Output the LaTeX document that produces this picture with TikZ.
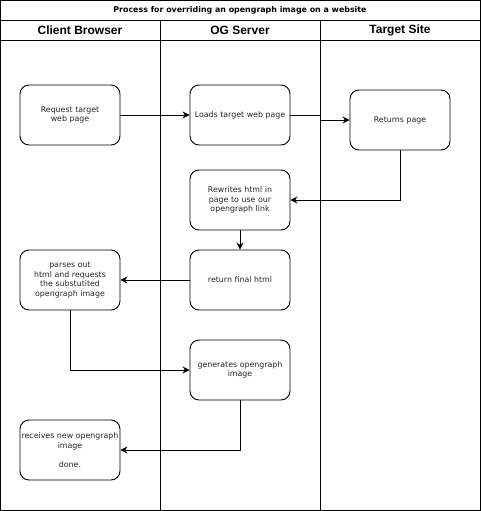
\documentclass[tikz,border=0pt]{standalone}
\usepackage{fontspec}
\setmainfont{DejaVu Sans}
\newfontfamily\hdrfont{Liberation Sans}
\usetikzlibrary{arrows.meta}
\tikzset{
  stepbox/.style={draw, line width=0.9pt, rounded corners=9pt, minimum width=100pt, minimum height=60pt, inner sep=0pt, text width=100pt, align=center, font=\fontsize{7.85}{9.6}\selectfont, text=black!85},
  flow/.style={draw, line width=0.9pt, -{Stealth[length=7pt,width=7pt]}},
  frame/.style={draw, line width=0.9pt},
  lanehdr/.style={font=\hdrfont\bfseries\fontsize{12}{14}\selectfont},
  titletext/.style={font=\bfseries\fontsize{7.9}{9}\selectfont}
}
\begin{document}
\begin{tikzpicture}[x=1pt,y=-1pt]
\useasboundingbox (0,0) rectangle (481,511);
% frame
\draw[frame] (0.5,0.5) rectangle (480,510);
\draw[frame] (0.5,20) -- (480,20);
\draw[frame] (0.5,40) -- (480,40);
\draw[frame] (160,20) -- (160,510);
\draw[frame] (320,20) -- (320,510);
\node[titletext] (title) at (240,10.5) {Process for overriding an opengraph image on a website};
\node[lanehdr] (h1) at (80,30) {Client Browser};
\node[lanehdr] (h2) at (240,30) {OG Server};
\node[lanehdr] (h3) at (400,30) {Target Site};
% boxes
\node[stepbox] (b1) at (70,115) {Request target\\web page};
\node[stepbox] (b2) at (240,115) {Loads target web page};
\node[stepbox] (b3) at (400,120) {Returns page};
\node[stepbox] (b4) at (240,200) {Rewrites html in\\page to use our\\opengraph link};
\node[stepbox] (b5) at (240,280) {return final html};
\node[stepbox] (b6) at (70,280) {parses out\\html and requests\\the substutited\\opengraph image};
\node[stepbox] (b7) at (240,370) {generates opengraph\\image};
\node[stepbox] (b8) at (70,450) {receives new opengraph\\image\\[9.6pt]done.};
% connectors
\coordinate (k1) at (320,115);
\draw[flow] (b1.east) -- (b2.west);
\draw[flow] (b2.east) -- (k1) |- (b3.west);
\draw[flow] (b3.south) |- (b4.east);
\draw[flow] (b4.south) -- (b5.north);
\draw[flow] (b5.west) -- (b6.east);
\draw[flow] (b6.south) |- (b7.west);
\draw[flow] (b7.south) |- (b8.east);
\end{tikzpicture}
\end{document}
